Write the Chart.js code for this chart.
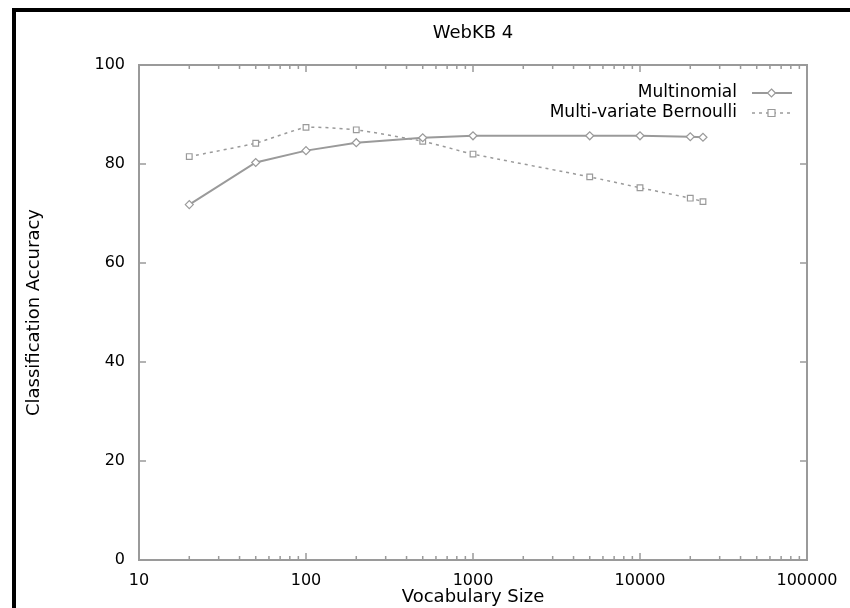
<!DOCTYPE html>
<html>
<head>
<meta charset="utf-8">
<script src="https://cdn.jsdelivr.net/npm/chart.js@4"></script>
<style>
  body { margin: 0; background: #fff; }
</style>
</head>
<body>
<canvas id="myChart" width="850" height="608"></canvas>
<script>
const vocabSizes = [20, 50, 100, 200, 500, 1000, 5000, 10000, 20000, 23830];
const multinomial = [71.8, 80.3, 82.7, 84.3, 85.3, 85.7, 85.7, 85.7, 85.5, 85.4];
const bernoulli = [81.5, 84.2, 87.4, 86.9, 84.6, 82.0, 77.4, 75.2, 73.1, 72.4];
const yTicks = [0, 20, 40, 60, 80, 100];
const xTicks = [10, 100, 1000, 10000, 100000];
const seriesNames = ["Multinomial", "Multi-variate Bernoulli"];

const FONT = "DejaVu Sans";
const GRAY = "#9a9a9a";

function toPoints(ys) {
    let pts = [];
    for (let i = 0; i < vocabSizes.length; i++)
        pts.push({ x: vocabSizes[i], y: ys[i] });
    return pts;
}

// cornice nera, titolo, riquadro, tacche interne e legenda
const decor = {
    id: "decor",
    beforeDraw(chart) {
        let ctx = chart.ctx;
        ctx.save();
        ctx.fillStyle = "#fff";
        ctx.fillRect(0, 0, chart.width, chart.height);
        ctx.fillStyle = "#000";
        ctx.fillRect(12, 8, 4, chart.height - 8);
        ctx.fillRect(12, 8, chart.width - 12, 4);
        ctx.restore();
    },
    afterDraw(chart) {
        let ctx = chart.ctx;
        let a = chart.chartArea;
        let xs = chart.scales.x, ys = chart.scales.y;
        ctx.save();
        ctx.strokeStyle = GRAY;
        ctx.lineWidth = 2;
        ctx.strokeRect(a.left, a.top, a.right - a.left, a.bottom - a.top);

        ctx.lineWidth = 1.5;
        ctx.beginPath();
        for (let d = 10; d < 100000; d *= 10) {
            for (let m = 1; m <= 10; m++) {
                let v = d * m;
                let px = xs.getPixelForValue(v);
                let len = (m === 1 || m === 10) ? 7 : 4;
                ctx.moveTo(px, a.bottom); ctx.lineTo(px, a.bottom - len);
                ctx.moveTo(px, a.top); ctx.lineTo(px, a.top + len);
            }
        }
        yTicks.forEach(function (v) {
            let py = ys.getPixelForValue(v);
            ctx.moveTo(a.left, py); ctx.lineTo(a.left + 7, py);
            ctx.moveTo(a.right, py); ctx.lineTo(a.right - 7, py);
        });
        ctx.stroke();

        ctx.fillStyle = "#000";
        ctx.font = "18px '" + FONT + "'";
        ctx.textAlign = "center";
        ctx.textBaseline = "middle";
        ctx.fillText("WebKB 4", (a.left + a.right) / 2, 33);

        ctx.font = "17px '" + FONT + "'";
        chart.data.datasets.forEach(function (ds, i) {
            let y = 93 + i * 20;
            ctx.fillStyle = "#000";
            ctx.textAlign = "right";
            ctx.fillText(ds.label, 737, y);
            ctx.strokeStyle = ds.borderColor;
            ctx.lineWidth = ds.borderWidth;
            ctx.setLineDash(ds.borderDash || []);
            ctx.beginPath();
            ctx.moveTo(752, y); ctx.lineTo(792, y);
            ctx.stroke();
            ctx.setLineDash([]);
            ctx.lineWidth = 1.2;
            ctx.fillStyle = "#fff";
            ctx.beginPath();
            if (ds.pointStyle === "rect") {
                ctx.rect(768, y - 3.5, 7, 7);
            } else {
                ctx.moveTo(771.5, y - 4); ctx.lineTo(775.5, y);
                ctx.lineTo(771.5, y + 4); ctx.lineTo(767.5, y); ctx.closePath();
            }
            ctx.fill();
            ctx.stroke();
        });
        ctx.restore();
    }
};

new Chart(document.getElementById("myChart"), {
    type: "line",
    data: {
        datasets: [
            {
                label: seriesNames[0],
                data: toPoints(multinomial),
                borderColor: GRAY,
                borderWidth: 2,
                pointStyle: "rectRot",
                pointRadius: 4,
                pointBorderWidth: 1.2,
                pointBackgroundColor: "#fff",
                pointBorderColor: GRAY,
                tension: 0
            },
            {
                label: seriesNames[1],
                data: toPoints(bernoulli),
                borderColor: GRAY,
                borderWidth: 1.5,
                borderDash: [3, 4],
                pointStyle: "rect",
                pointRadius: 4,
                pointBorderWidth: 1.2,
                pointBackgroundColor: "#fff",
                pointBorderColor: GRAY,
                tension: 0.15
            }
        ]
    },
    options: {
        responsive: false,
        animation: false,
        layout: { padding: { left: 0, top: 65, right: 43, bottom: 0 } },
        plugins: {
            legend: { display: false },
            tooltip: { enabled: false }
        },
        scales: {
            x: {
                type: "logarithmic",
                min: 10,
                max: 100000,
                afterFit: function (s) { s.height = 48; },
                afterBuildTicks: function (s) {
                    s.ticks = xTicks.map(function (v) { return { value: v }; });
                },
                grid: { display: false, drawTicks: false },
                border: { display: false },
                ticks: {
                    padding: 11,
                    maxRotation: 0,
                    autoSkip: false,
                    color: "#000",
                    font: { family: FONT, size: 16 },
                    callback: function (v) { return String(v); }
                },
                title: {
                    display: true,
                    text: "Vocabulary Size",
                    color: "#000",
                    font: { family: FONT, size: 18 },
                    padding: { top: 0, bottom: 0 }
                }
            },
            y: {
                min: 0,
                max: 100,
                afterFit: function (s) { s.width = 139; },
                afterBuildTicks: function (s) {
                    s.ticks = yTicks.map(function (v) { return { value: v }; });
                },
                grid: { display: false, drawTicks: false },
                border: { display: false },
                ticks: {
                    padding: 14,
                    color: "#000",
                    font: { family: FONT, size: 16 }
                },
                title: {
                    display: true,
                    text: "Classification Accuracy",
                    color: "#000",
                    font: { family: FONT, size: 18 },
                    padding: { top: 24, bottom: 0 }
                }
            }
        }
    },
    plugins: [decor]
});
</script>
</body>
</html>
